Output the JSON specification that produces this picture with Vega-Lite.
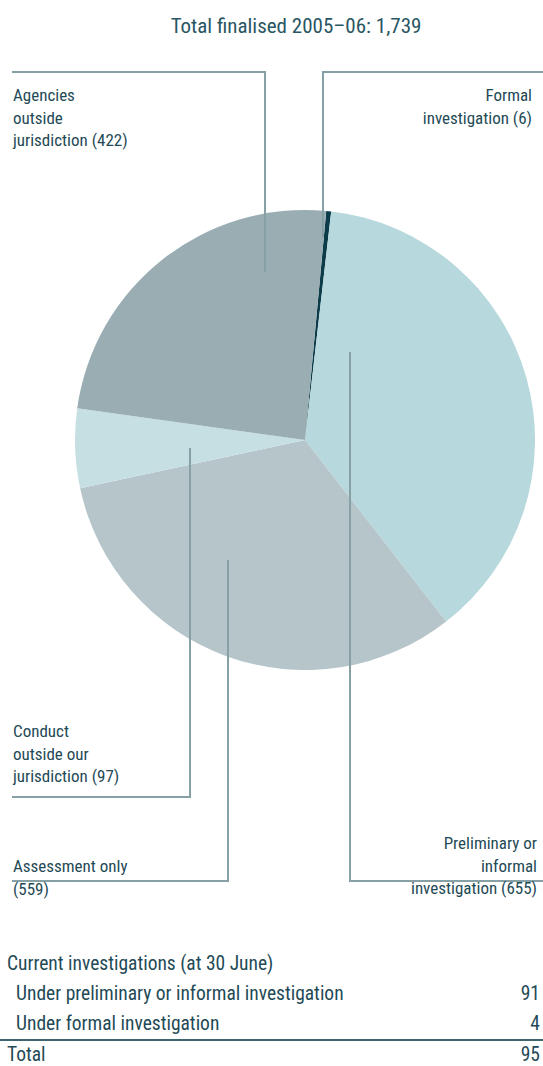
{
  "$schema": "https://vega.github.io/schema/vega-lite/v6.json",
  "width": 543,
  "height": 1066,
  "autosize": "none",
  "padding": 0,
  "background": "white",
  "config": {"view": {"stroke": null}, "text": {"font": "Liberation Sans Narrow, Roboto Condensed, DejaVu Sans Condensed, Arial Narrow, sans-serif", "color": "#1f4a56"}},
  "datasets": {
    "slices": [
      {"category": "Formal investigation", "count": 6, "order": 1},
      {"category": "Preliminary or informal investigation", "count": 655, "order": 2},
      {"category": "Assessment only", "count": 559, "order": 3},
      {"category": "Conduct outside our jurisdiction", "count": 97, "order": 4},
      {"category": "Agencies outside jurisdiction", "count": 422, "order": 5}
    ],
    "leaders": [
      {"x": 12, "x2": 265, "y": 72, "y2": 72},
      {"x": 265, "x2": 265, "y": 71, "y2": 272},
      {"x": 323, "x2": 543, "y": 72, "y2": 72},
      {"x": 323, "x2": 323, "y": 71, "y2": 237},
      {"x": 350, "x2": 350, "y": 352, "y2": 882},
      {"x": 349, "x2": 543, "y": 881, "y2": 881},
      {"x": 228, "x2": 228, "y": 560, "y2": 882},
      {"x": 12, "x2": 229, "y": 881, "y2": 881},
      {"x": 190, "x2": 190, "y": 448, "y2": 798},
      {"x": 12, "x2": 191, "y": 797, "y2": 797}
    ],
    "separator": [{"x": 0, "x2": 543, "y": 1040, "y2": 1040}],
    "labelsLeft": [
      {"text": "Agencies\noutside\njurisdiction (422)", "x": 13, "y": 101},
      {"text": "Conduct\noutside our\njurisdiction (97)", "x": 13, "y": 737},
      {"text": "Assessment only\n(559)", "x": 13, "y": 872}
    ],
    "labelsRight": [
      {"text": "Formal\ninvestigation (6)", "x": 532, "y": 101},
      {"text": "Preliminary or\ninformal\ninvestigation (655)", "x": 537, "y": 849}
    ],
    "tableLeft": [
      {"text": "Current investigations (at 30 June)", "x": 7, "y": 970},
      {"text": "Under preliminary or informal investigation", "x": 16, "y": 1000},
      {"text": "Under formal investigation", "x": 16, "y": 1030},
      {"text": "Total", "x": 7, "y": 1061}
    ],
    "tableRight": [
      {"text": "91", "x": 540, "y": 1000},
      {"text": "4", "x": 540, "y": 1030},
      {"text": "95", "x": 540, "y": 1061}
    ],
    "title": [{"text": "Total finalised 2005–06: 1,739", "x": 296, "y": 33}]
  },
  "layer": [
    {
      "data": {"name": "slices"},
      "mark": {"type": "arc", "outerRadius": 230, "strokeWidth": 0},
      "encoding": {
        "x": {"datum": 305, "type": "quantitative", "scale": {"domain": [0, 543], "nice": false, "zero": false}, "axis": null},
        "y": {"datum": 440, "type": "quantitative", "scale": {"domain": [0, 1066], "reverse": true, "nice": false, "zero": false}, "axis": null},
        "theta": {"field": "count", "type": "quantitative", "stack": true, "scale": {"range": [0.0925, 6.3757]}},
        "order": {"field": "order", "type": "quantitative"},
        "color": {
          "field": "category", "type": "nominal", "legend": null,
          "scale": {
            "domain": ["Formal investigation", "Preliminary or informal investigation", "Assessment only", "Conduct outside our jurisdiction", "Agencies outside jurisdiction"],
            "range": ["#0c3b49", "#b7d8dc", "#b5c5ca", "#c6dfe3", "#99adb3"]
          }
        }
      }
    },
    {
      "data": {"name": "leaders"},
      "mark": {"type": "rule", "color": "#87a0a6", "strokeWidth": 2},
      "encoding": {
        "x": {"field": "x", "type": "quantitative", "axis": null},
        "x2": {"field": "x2"},
        "y": {"field": "y", "type": "quantitative", "axis": null},
        "y2": {"field": "y2"}
      }
    },
    {
      "data": {"name": "separator"},
      "mark": {"type": "rule", "color": "#3e6570", "strokeWidth": 2},
      "encoding": {
        "x": {"field": "x", "type": "quantitative", "axis": null},
        "x2": {"field": "x2"},
        "y": {"field": "y", "type": "quantitative", "axis": null},
        "y2": {"field": "y2"}
      }
    },
    {
      "data": {"name": "labelsLeft"},
      "mark": {"type": "text", "align": "left", "baseline": "alphabetic", "fontSize": 17, "lineBreak": "\n", "lineHeight": 22.5},
      "encoding": {
        "x": {"field": "x", "type": "quantitative", "axis": null},
        "y": {"field": "y", "type": "quantitative", "axis": null},
        "text": {"field": "text"}
      }
    },
    {
      "data": {"name": "labelsRight"},
      "mark": {"type": "text", "align": "right", "baseline": "alphabetic", "fontSize": 17, "lineBreak": "\n", "lineHeight": 22.5},
      "encoding": {
        "x": {"field": "x", "type": "quantitative", "axis": null},
        "y": {"field": "y", "type": "quantitative", "axis": null},
        "text": {"field": "text"}
      }
    },
    {
      "data": {"name": "tableLeft"},
      "mark": {"type": "text", "align": "left", "baseline": "alphabetic", "fontSize": 19.5},
      "encoding": {
        "x": {"field": "x", "type": "quantitative", "axis": null},
        "y": {"field": "y", "type": "quantitative", "axis": null},
        "text": {"field": "text"}
      }
    },
    {
      "data": {"name": "tableRight"},
      "mark": {"type": "text", "align": "right", "baseline": "alphabetic", "fontSize": 19.5},
      "encoding": {
        "x": {"field": "x", "type": "quantitative", "axis": null},
        "y": {"field": "y", "type": "quantitative", "axis": null},
        "text": {"field": "text"}
      }
    },
    {
      "data": {"name": "title"},
      "mark": {"type": "text", "align": "center", "baseline": "alphabetic", "fontSize": 21, "color": "#2a5663"},
      "encoding": {
        "x": {"field": "x", "type": "quantitative", "axis": null},
        "y": {"field": "y", "type": "quantitative", "axis": null},
        "text": {"field": "text"}
      }
    }
  ]
}
